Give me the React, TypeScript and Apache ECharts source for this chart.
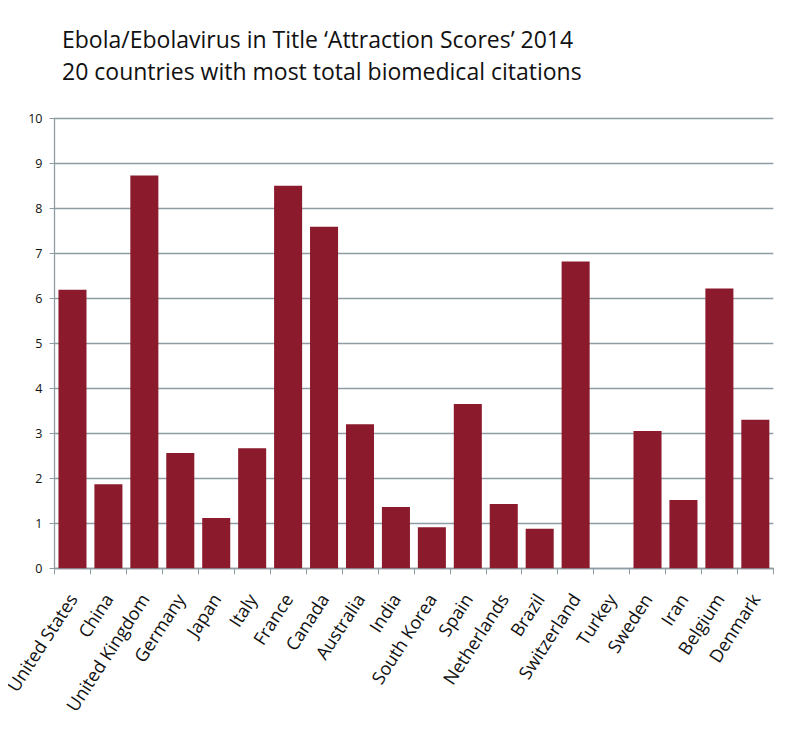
import React, { useEffect, useRef } from "react";
import * as echarts from "echarts";

const titleLines = [
  "Ebola/Ebolavirus in Title \u2018Attraction Scores\u2019 2014",
  "20 countries with most total biomedical citations",
];
const countries = [
  "United States", "China", "United Kingdom", "Germany", "Japan", "Italy",
  "France", "Canada", "Australia", "India", "South Korea", "Spain",
  "Netherlands", "Brazil", "Switzerland", "Turkey", "Sweden", "Iran",
  "Belgium", "Denmark",
];
const scores = [
  6.19, 1.87, 8.73, 2.56, 1.12, 2.67, 8.5, 7.59, 3.2, 1.36, 0.91, 3.65,
  1.43, 0.88, 6.82, 0, 3.05, 1.52, 6.22, 3.3,
];

const FONT = "Open Sans, Lato, sans-serif";
const GRID_COLOR = "#8e9da3";

export default function App() {
  const ref = useRef<HTMLDivElement>(null);
  useEffect(() => {
    if (!ref.current) return;
    const chart = echarts.init(ref.current, null, { renderer: "svg" });
    chart.setOption({
      animation: false,
      backgroundColor: "#ffffff",
      title: {
        text: titleLines.join("\n"),
        left: 57,
        top: 18,
        textStyle: {
          fontFamily: FONT,
          fontSize: 23,
          fontWeight: "normal",
          color: "#111",
          lineHeight: 32,
        },
      },
      grid: { left: 54.5, right: 18.7, top: 118.3, bottom: 168.7 },
      xAxis: {
        type: "category",
        data: countries,
        boundaryGap: true,
        axisLine: { lineStyle: { color: GRID_COLOR, width: 1.3 } },
        axisTick: { show: true, length: 6, lineStyle: { color: GRID_COLOR } },
        axisLabel: {
          interval: 0,
          rotate: 57,
          fontFamily: FONT,
          fontSize: 18,
          color: "#111",
          margin: 27,
        },
      },
      yAxis: {
        type: "value",
        min: 0,
        max: 10,
        interval: 1,
        axisLine: { show: true, lineStyle: { color: GRID_COLOR, width: 1.3 } },
        axisTick: { show: true, length: 5, lineStyle: { color: GRID_COLOR } },
        splitLine: { lineStyle: { color: GRID_COLOR, width: 1.3 } },
        axisLabel: {
          fontFamily: FONT,
          fontSize: 12.5,
          color: "#111",
          margin: 12,
        },
      },
      series: [
        {
          type: "bar",
          data: scores,
          barCategoryGap: "22%",
          itemStyle: { color: "#8b1a2c" },
        },
      ],
    });
    return () => chart.dispose();
  }, []);
  return <div ref={ref} style={{ width: 792, height: 737, margin: -8 }} />;
}
